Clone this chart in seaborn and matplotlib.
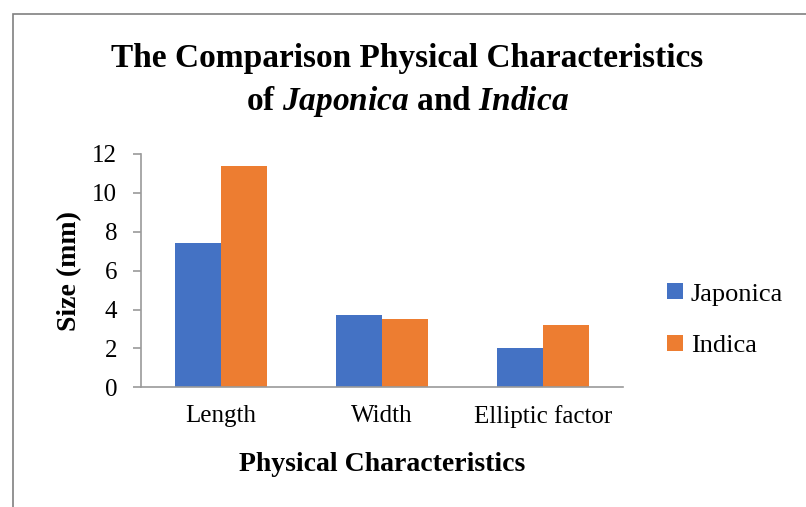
import pandas as pd
import seaborn as sns
import matplotlib.pyplot as plt
from matplotlib.patches import Rectangle

# values (mm)
categories = ['Length', 'Width', 'Elliptic factor']
japonica = [7.4, 3.7, 2.0]
indica = [11.4, 3.5, 3.2]
y_ticks = [0, 2, 4, 6, 8, 10, 12]

df = pd.DataFrame({
    'trait': categories * 2,
    'size': japonica + indica,
    'variety': ['Japonica'] * 3 + ['Indica'] * 3,
})

sns.set_style('white')
plt.rcParams['font.family'] = ['Liberation Serif', 'DejaVu Serif']
plt.rcParams['text.color'] = 'black'
plt.rcParams['mathtext.fontset'] = 'custom'
plt.rcParams['mathtext.rm'] = 'Liberation Serif:bold'
plt.rcParams['mathtext.it'] = 'Liberation Serif:italic:bold'
plt.rcParams['mathtext.bf'] = 'Liberation Serif:bold'

grey = '#9a9a9a'

fig = plt.figure(figsize=(8.06, 5.07), dpi=100)
ax = fig.add_axes([0.1746, 0.2361, 0.5987, 0.4602])

sns.barplot(data=df, x='trait', y='size', hue='variety', ax=ax,
            palette=['#4472C4', '#ED7D31'], width=0.57, gap=0,
            linewidth=0, saturation=1)

ax.set_xlim(-0.5, 2.5)
ax.set_ylim(0, 12)
ax.set_yticks(y_ticks)

for s in ['top', 'right']:
    ax.spines[s].set_visible(False)
for s in ['left', 'bottom']:
    ax.spines[s].set_color(grey)
    ax.spines[s].set_linewidth(1.2)

ax.tick_params(axis='y', left=True, length=6, width=1.2, color=grey,
               pad=11, labelsize=18, labelcolor='black')
ax.tick_params(axis='x', bottom=False, length=0, pad=13,
               labelsize=18, labelcolor='black')

ax.set_xlabel('Physical Characteristics', fontsize=20, fontweight='bold',
              va='center', color='black')
ax.set_ylabel('Size (mm)', fontsize=20, fontweight='bold',
              va='center', color='black')
ax.xaxis.set_label_coords(0.5, -0.333)
ax.yaxis.set_label_coords(-0.147, 0.5)

# title, species names in italics
fig.text(0.505, 0.868, 'The Comparison Physical Characteristics',
         ha='center', va='baseline', fontsize=24, fontweight='bold')
fig.text(0.505, 0.783, r'of $\mathit{Japonica}$ and $\mathit{Indica}$',
         ha='center', va='baseline', fontsize=24, fontweight='bold')

ax.legend(title=None, frameon=False, fontsize=19, loc='center left',
          bbox_to_anchor=(0.811, 0.368), bbox_transform=fig.transFigure,
          borderpad=0, handlelength=0.6, handleheight=0.55,
          handletextpad=0.3, labelspacing=1.12)

# partial frame around the chart area (cropped on right/bottom)
fig.patches.append(Rectangle((13 / 806, -0.1), 1.2, 1.1 - 14 / 507,
                             transform=fig.transFigure, fill=False,
                             edgecolor='#808080', linewidth=1.2))

fig.savefig('out.png', dpi=100)
